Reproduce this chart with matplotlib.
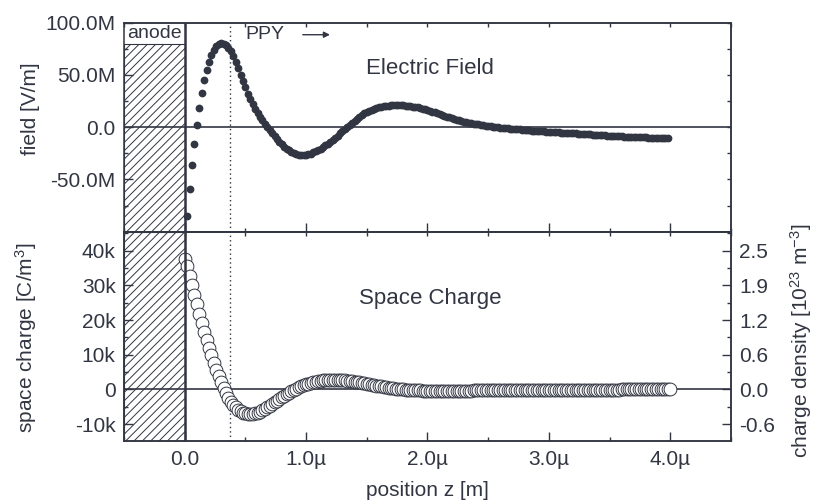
import numpy as np
import matplotlib
matplotlib.use('Agg')
import matplotlib.pyplot as plt
from matplotlib.patches import Rectangle
from matplotlib.ticker import MultipleLocator, FuncFormatter

# electric field [MV/m], one point every 0.02 um starting at z = 0.02 um
field = [-85, -59, -36, -16, 2, 18.5, 33, 45, 54.5, 62.5,
         69, 74, 77.5, 79.5, 80.5, 80, 78.5, 76, 72.5, 68,
         62.5, 56.5, 50.2, 44, 38, 32.2, 26.8, 22, 17.6, 13.6,
         10, 6.6, 3.4, 0.4, -2.8, -5.8, -8.6, -11.3, -13.9, -16.3,
         -18.5, -20.5, -22.2, -23.7, -24.9, -25.9, -26.6, -27.0, -26.9, -26.6,
         -26.0, -25.2, -24.2, -23.1, -21.9, -20.6, -19.1, -17.5, -15.8, -14.0,
         -12.1, -10.1, -8.0, -5.9, -3.8, -1.7, 0.4, 2.4, 4.3, 6.2,
         8.1, 10.0, 11.7, 13.2, 14.5, 15.6, 16.6, 17.4, 18.2, 18.9,
         19.4, 19.9, 20.3, 20.6, 20.8, 20.95, 21.0, 21.0, 21.0, 20.9,
         20.7, 20.5, 20.2, 19.8, 19.4, 18.9, 18.4, 17.8, 17.2, 16.5,
         15.8, 15.0, 14.2, 13.4, 12.6, 11.8, 11.0, 10.2, 9.4, 8.6,
         7.9, 7.2, 6.5, 5.9, 5.4, 4.9, 4.4, 3.9, 3.4, 3.0,
         2.6, 2.2, 1.8, 1.4, 1.1, 0.8, 0.5, 0.2, -0.1, -0.4,
         -0.6, -0.9, -1.1, -1.4, -1.6, -1.8, -2.0, -2.2, -2.4, -2.6,
         -2.8, -3.0, -3.2, -3.4, -3.5, -3.7, -3.9, -4.0, -4.2, -4.4,
         -4.5, -4.7, -4.8, -5.0, -5.1, -5.3, -5.4, -5.6, -5.7, -5.9,
         -6.0, -6.2, -6.3, -6.5, -6.6, -6.8, -6.9, -7.1, -7.2, -7.4,
         -7.5, -7.7, -7.8, -8.0, -8.1, -8.3, -8.4, -8.6, -8.7, -8.8,
         -8.9, -9.0, -9.1, -9.2, -9.3, -9.4, -9.5, -9.6, -9.7, -9.8,
         -9.9, -10.0, -10.1, -10.2, -10.3, -10.4, -10.5, -10.6, -10.7]

# space charge [kC/m^3], one point every 0.02 um starting at z = 0
charge = [37.5, 35.5, 32.8, 30.0, 27.2, 24.5, 21.8, 19.2, 16.7, 14.3,
          12.0, 9.8, 7.7, 5.7, 3.8, 2.0, 0.4, -1.1, -2.4, -3.5,
          -4.4, -5.2, -5.8, -6.3, -6.7, -6.95, -7.1, -7.15, -7.1, -6.95,
          -6.7, -6.4, -6.05, -5.65, -5.2, -4.75, -4.25, -3.75, -3.25, -2.75,
          -2.25, -1.8, -1.35, -0.9, -0.5, -0.1, 0.25, 0.6, 0.9, 1.2,
          1.45, 1.7, 1.9, 2.1, 2.25, 2.4, 2.5, 2.6, 2.68, 2.74,
          2.78, 2.8, 2.8, 2.78, 2.75, 2.7, 2.63, 2.55, 2.46, 2.36,
          2.25, 2.13, 2.0, 1.87, 1.74, 1.6, 1.47, 1.34, 1.21, 1.08,
          0.96, 0.84, 0.73, 0.62, 0.52, 0.42, 0.33, 0.25, 0.17, 0.1,
          0.03, -0.03, -0.09, -0.14, -0.19, -0.23, -0.27, -0.3, -0.33, -0.35,
          -0.37, -0.39, -0.4, -0.41, -0.41, -0.42, -0.42, -0.42, -0.41, -0.41,
          -0.4, -0.39, -0.38, -0.37, -0.36, -0.35, -0.34, -0.33, -0.32, -0.31,
          -0.3, -0.29, -0.28, -0.27, -0.26, -0.25, -0.24, -0.23, -0.22, -0.21,
          -0.2, -0.2, -0.19, -0.18, -0.17, -0.17, -0.16, -0.15, -0.15, -0.14,
          -0.14, -0.13, -0.13, -0.12, -0.12, -0.11, -0.11, -0.1, -0.1, -0.1,
          -0.09, -0.09, -0.09, -0.08, -0.08, -0.08, -0.07, -0.07, -0.07, -0.07,
          -0.06, -0.06, -0.06, -0.06, -0.05, -0.05, -0.05, -0.05, -0.05, -0.04,
          -0.04, -0.04, -0.04, -0.04, -0.03, -0.03, -0.03, -0.03, -0.03, -0.03,
          -0.02, -0.02, -0.02, -0.02, -0.02, -0.02, -0.02, -0.01, -0.01, -0.01,
          -0.01, -0.01, -0.01, -0.01, -0.01, -0.01, 0.0, 0.0, 0.0, 0.0,
          0.0]

DZ = 0.02            # grid step [um]
ppy_edge = 0.372     # dotted line position [um]
anode_top = 80       # top of hatched block in field panel [MV/m]
E_CHARGE = 1.602e-19

z_field = DZ * (1 + np.arange(len(field)))
z_charge = DZ * np.arange(len(charge))

DARK = '#323642'
plt.rcParams['font.family'] = ['Liberation Sans', 'DejaVu Sans']
plt.rcParams['mathtext.fontset'] = 'custom'
plt.rcParams['mathtext.rm'] = 'Liberation Sans'
plt.rcParams['mathtext.it'] = 'Liberation Sans:italic'
plt.rcParams['hatch.linewidth'] = 0.7
plt.rcParams['text.color'] = DARK
plt.rcParams['axes.edgecolor'] = DARK
plt.rcParams['axes.labelcolor'] = DARK
plt.rcParams['xtick.color'] = DARK
plt.rcParams['ytick.color'] = DARK

fig = plt.figure(figsize=(8.15, 5), dpi=100)
ax_f = fig.add_axes([0.1521, 0.5366, 0.7448, 0.418])
ax_q = fig.add_axes([0.1521, 0.1186, 0.7448, 0.418])

FS = 15
x_fmt = FuncFormatter(lambda v, p: '0.0' if abs(v) < 1e-9 else '%.1f\u00b5' % v)

for ax in (ax_f, ax_q):
    ax.set_xlim(-0.5, 4.5)
    for s in ax.spines.values():
        s.set_linewidth(1.1)
    ax.xaxis.set_major_locator(MultipleLocator(1.0))
    ax.xaxis.set_minor_locator(MultipleLocator(0.5))
    ax.tick_params(which='both', direction='in', width=1.0, labelsize=FS,
                   top=False, right=False)
    ax.tick_params(which='major', length=6.5)
    ax.tick_params(which='minor', length=3)
    ax.axvline(0, color=DARK, lw=1.8, zorder=3)
    ax.axvline(ppy_edge, color=DARK, lw=1.0, ls=(0, (1, 2.2)), zorder=1)
    ax.axhline(0, color=DARK, lw=1.2, zorder=1)
    top = ax.secondary_xaxis('top')
    top.xaxis.set_major_locator(MultipleLocator(0.5))
    top.tick_params(direction='in', length=3, width=1.0, labeltop=False)
    top.spines['top'].set_linewidth(1.1)

# ---- electric field ----
ax_f.set_ylim(-100, 100)
ax_f.yaxis.set_major_locator(MultipleLocator(50))
ax_f.yaxis.set_minor_locator(MultipleLocator(25))
ax_f.set_yticks([-50, 0, 50, 100])
ax_f.yaxis.set_major_formatter(FuncFormatter(
    lambda v, p: '0.0' if abs(v) < 1e-9 else '%.1fM' % v))
ax_f.tick_params(axis='y', pad=6)
ax_f.tick_params(axis='x', labelbottom=False)
rt = ax_f.secondary_yaxis('right')
rt.yaxis.set_major_locator(MultipleLocator(25))
rt.tick_params(direction='in', length=3, width=1.0, labelright=False)
rt.spines['right'].set_linewidth(1.1)

ax_f.add_patch(Rectangle((-0.5, -100), 0.5, anode_top + 100, fill=False,
                         hatch='////', edgecolor=DARK, lw=0.8, zorder=0.5))
ax_f.plot(z_field, field, 'o', ms=5.6, color=DARK, mec=DARK, mew=0, zorder=2)
ax_f.set_ylabel('field [V/m]', fontsize=FS)
ax_f.yaxis.set_label_coords(-0.138, 0.59)

ax_f.text(-0.25, 90, 'anode', fontsize=14, ha='center', va='center')
ax_f.text(0.66, 88.5, 'PPY', fontsize=14, ha='center', va='center')
ax_f.annotate('', xy=(1.22, 88.5), xytext=(0.95, 88.5),
              arrowprops=dict(arrowstyle='-|>', color=DARK, lw=1.0,
                              mutation_scale=9))
ax_f.text(2.02, 56, 'Electric Field', fontsize=16, ha='center', va='center')

# ---- space charge ----
q_lo, q_hi = -14.8, 45.5
ax_q.set_ylim(q_lo, q_hi)
ax_q.yaxis.set_major_locator(MultipleLocator(10))
ax_q.yaxis.set_minor_locator(MultipleLocator(5))
ax_q.yaxis.set_major_formatter(FuncFormatter(
    lambda v, p: '0' if abs(v) < 1e-9 else '%dk' % round(v)))
ax_q.xaxis.set_major_formatter(x_fmt)
ax_q.tick_params(axis='y', pad=6)
ax_q.tick_params(axis='x', pad=7)

ax_q.add_patch(Rectangle((-0.5, q_lo), 0.5, q_hi - q_lo, fill=False,
                         hatch='////', edgecolor=DARK, lw=0.8, zorder=0.5))
ax_q.plot(z_charge, charge, 'o', ms=9.2, mfc='white', mec=DARK, mew=0.7,
          zorder=2)
ax_q.set_ylabel('space charge [C/m$^{3}$]', fontsize=FS)
ax_q.yaxis.set_label_coords(-0.14, 0.49)
ax_q.set_xlabel('position z [m]', fontsize=FS)
ax_q.xaxis.set_label_coords(0.5, -0.195)
ax_q.text(2.02, 26.3, 'Space Charge', fontsize=16, ha='center', va='center')

ax_d = ax_q.twinx()
ax_d.set_ylim(q_lo, q_hi)
ax_d.yaxis.set_major_locator(MultipleLocator(10))
ax_d.yaxis.set_minor_locator(MultipleLocator(5))
ax_d.yaxis.set_major_formatter(FuncFormatter(
    lambda v, p: '%.1f' % (v * 1e3 / E_CHARGE / 1e23 + 0.0)))
ax_d.tick_params(which='both', direction='in', width=1.0, labelsize=FS, pad=6)
ax_d.tick_params(which='major', length=6.5)
ax_d.tick_params(which='minor', length=3)
for s in ax_d.spines.values():
    s.set_linewidth(1.1)
ax_d.set_ylabel('charge density [10$^{23}$ m$^{-3}$]', fontsize=FS)
ax_d.yaxis.set_label_coords(1.094, 0.477)

fig.savefig('out.png', dpi=100)
